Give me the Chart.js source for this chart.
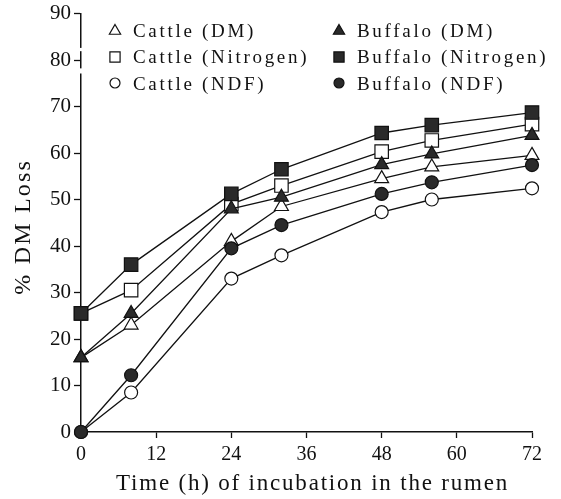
<!DOCTYPE html>
<html><head><meta charset="utf-8">
<script src="https://cdn.jsdelivr.net/npm/chart.js@4.4.0/dist/chart.umd.min.js"></script>
<style>html,body{margin:0;padding:0;background:#fff}</style>
</head><body>
<canvas id="c" width="561" height="499" style="width:561px;height:499px;display:block"></canvas>
<script>
// ---- data ----
const hours      = [0, 8, 24, 32, 48, 56, 72];
const cattleDM   = [16, 23, 41, 48.5, 54.5, 57, 59.5];
const buffaloDM  = [16, 25.5, 48, 50.5, 57.5, 59.8, 63.8];
const cattleN    = [25.5, 30.5, 49, 53, 60.3, 62.7, 66.2];
const buffaloN   = [25.5, 36, 51.2, 56.5, 64.3, 66, 68.7];
const cattleNDF  = [0, 8.5, 33, 38, 47.3, 50, 52.4];
const buffaloNDF = [0, 12.2, 39.5, 44.5, 51.2, 53.7, 57.4];
const xTicks = [0, 12, 24, 36, 48, 60, 72];
const yTicks = [0, 10, 20, 30, 40, 50, 60, 70, 80, 90];
const labels = ['Cattle (DM)', 'Buffalo (DM)', 'Cattle (Nitrogen)', 'Buffalo (Nitrogen)', 'Cattle (NDF)', 'Buffalo (NDF)'];
const xTitle = 'Time (h) of incubation in the rumen';
const yTitle = '% DM Loss';

const INK = '#111', FILL = '#2a2a2a';
const SERIF = '"Liberation Serif", "Times New Roman", serif';

function pts(arr) { return hours.map((h, i) => ({x: h, y: arr[i]})); }
function ds(label, arr, style, filled, r) {
  return {
    label, data: pts(arr), pointStyle: style, pointRadius: r, pointHoverRadius: r,
    backgroundColor: filled ? FILL : '#fff', pointBackgroundColor: filled ? FILL : '#fff',
    pointBorderColor: INK, pointBorderWidth: 1.2, borderColor: INK, borderWidth: 1.3,
    tension: 0, fill: false, clip: false, order: filled ? 0 : 1,
    legendRadius: style === 'circle' ? 5 : (style === 'rect' ? 7.2 : 6.5)
  };
}

// letter-spaced axis titles (scan uses a wide serif)
const origDrawTitle = Chart.LinearScale.prototype.drawTitle;
Chart.LinearScale.prototype.drawTitle = function () {
  const c = this.ctx;
  c.save();
  if (this.axis === 'x') { c.letterSpacing = '1.8px'; c.translate(6, 0); }
  else { c.letterSpacing = '2.2px'; c.translate(0, 4); }
  origDrawTitle.call(this);
  c.restore();
};

const legendPlugin = {
  id: 'customLegend',
  afterDraw(chart) {
    const ctx = chart.ctx;
    const cols = [{mx: 115, tx: 133}, {mx: 339, tx: 357}];
    const rows = [{my: 31, ty: 37}, {my: 57, ty: 63}, {my: 83, ty: 90}];
    ctx.save();
    ctx.font = '19px ' + SERIF;
    ctx.letterSpacing = '2.7px';
    ctx.textBaseline = 'alphabetic';
    ctx.textAlign = 'left';
    chart.data.datasets.forEach((d, i) => {
      const c = cols[i % 2], r = rows[Math.floor(i / 2)];
      ctx.fillStyle = d.pointBackgroundColor;
      ctx.strokeStyle = INK;
      ctx.lineWidth = 1.2;
      Chart.helpers.drawPoint(ctx, {pointStyle: d.pointStyle, radius: d.legendRadius, borderWidth: 1.2, rotation: 0}, c.mx, r.my);
      ctx.fillStyle = INK;
      ctx.fillText(d.label, c.tx, r.ty);
    });
    ctx.restore();
  }
};

// small break marks on the y axis line (between 80 and 70, and just above 80)
const breakPlugin = {
  id: 'axisBreak',
  afterDraw(chart) {
    const y = chart.scales.y, ctx = chart.ctx, x0 = chart.chartArea.left;
    ctx.save();
    ctx.fillStyle = '#fff';
    [[82.6, 81.9], [78.2, 77.1]].forEach(([a, b]) => {
      const pa = y.getPixelForValue(a), pb = y.getPixelForValue(b);
      ctx.fillRect(x0 - 2, pa, 4, pb - pa);
    });
    ctx.restore();
  }
};

new Chart(document.getElementById('c'), {
  type: 'line',
  data: {
    datasets: [
      ds(labels[0], cattleDM, 'triangle', false, 8),
      ds(labels[1], buffaloDM, 'triangle', true, 8),
      ds(labels[2], cattleN, 'rect', false, 9.5),
      ds(labels[3], buffaloN, 'rect', true, 9.5),
      ds(labels[4], cattleNDF, 'circle', false, 6.5),
      ds(labels[5], buffaloNDF, 'circle', true, 6.5)
    ]
  },
  options: {
    responsive: false, animation: false, devicePixelRatio: 1,
    layout: {padding: {left: 0, right: 29, top: 10, bottom: 0}},
    plugins: {legend: {display: false}, tooltip: {enabled: false}},
    scales: {
      x: {
        type: 'linear', min: 0, max: 72,
        afterBuildTicks: s => { s.ticks = xTicks.map(v => ({value: v})); },
        afterFit: s => { s.height = 67; },
        grid: {drawOnChartArea: false, drawTicks: true, tickLength: 6, color: INK, tickWidth: 1.3},
        border: {color: INK, width: 1.5},
        ticks: {color: INK, padding: 7, maxRotation: 0, font: {family: SERIF, size: 20, lineHeight: 1}},
        title: {display: true, text: xTitle, color: INK, padding: {top: 0, bottom: 1}, font: {family: SERIF, size: 23}}
      },
      y: {
        type: 'linear', min: 0, max: 90,
        afterBuildTicks: s => { s.ticks = yTicks.map(v => ({value: v})); },
        afterFit: s => { s.width = 81; },
        grid: {drawOnChartArea: false, drawTicks: true, tickLength: 7, color: INK, tickWidth: 1.3},
        border: {color: INK, width: 1.5},
        ticks: {color: INK, padding: 3, font: {family: SERIF, size: 21, lineHeight: 1}},
        title: {display: true, text: yTitle, color: INK, padding: {top: 9, bottom: 0}, font: {family: SERIF, size: 24}}
      }
    }
  },
  plugins: [legendPlugin, breakPlugin]
});
</script>
</body></html>
